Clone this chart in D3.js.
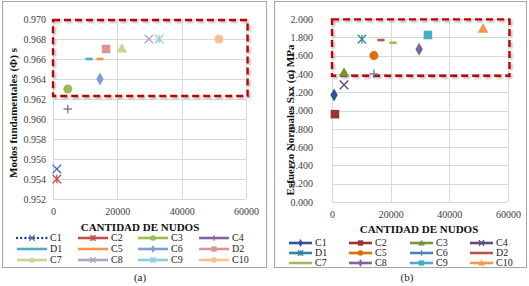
<!DOCTYPE html>
<html><head><meta charset="utf-8">
<script src="https://cdn.jsdelivr.net/npm/d3@7"></script>
<style>
html,body{margin:0;padding:0;background:#fff;}
svg{display:block;font-family:"Liberation Serif","Times New Roman",serif;}
</style></head>
<body><svg id="c" width="529" height="286"></svg>
<script>
// ---------- data ----------
const series = ["C1","C2","C3","C4","D1","C5","C6","D2","C7","C8","C9","C10"];
const xTicks = [0, 20000, 40000, 60000];
// panel (a)
const nudosA = [1200, 1200, 4600, 4600, 11200, 14600, 14600, 16500, 21400, 29800, 33000, 51600];
const modosA = [0.955, 0.954, 0.963, 0.961, 0.966, 0.966, 0.964, 0.967, 0.967, 0.968, 0.968, 0.968];
const yTicksA = [0.952,0.954,0.956,0.958,0.960,0.962,0.964,0.966,0.968,0.970];
const markersA = ["x","star","circle","plus","dash","dash","diamond","square","triangle","x","star","circle"];
const colorsA = ["#4472c4","#c0504d","#9bbb59","#8064a2","#4bacc6","#f79646","#7f9fd4","#d99694","#c3d69b","#b3a2c7","#93cddd","#fac090"];
const boxA = {x0: 0, x1: 60500, y0: 0.9623, y1: 0.9699};
// panel (b)
const nudosB = [700, 1000, 4100, 4100, 10200, 14300, 14300, 16700, 20800, 29700, 32700, 51500];
const esfB = [1.17, 0.96, 1.41, 1.28, 1.78, 1.60, 1.40, 1.77, 1.74, 1.67, 1.825, 1.89];
const yTicksB = [0,0.2,0.4,0.6,0.8,1.0,1.2,1.4,1.6,1.8,2.0];
const markersB = ["diamond","square","triangle","x","star","circle","plus","dash","dash","diamond","square","triangle"];
const colorsB = ["#2f5597","#953735","#77933c","#604a7b","#31859c","#e46c0a","#4f81bd","#c0504d","#9bbb59","#8064a2","#4bacc6","#f79646"];
const boxB = {x0: 0, x1: 60500, y0: 1.38, y1: 1.995};

const svg = d3.select("#c");
const defs = svg.append("defs");
defs.append("filter").attr("id","blur").append("feGaussianBlur").attr("stdDeviation",1.2);

function marker(g, type, x, y, color, s){
  s = s || 1;
  if(type==="circle") g.append("circle").attr("cx",x).attr("cy",y).attr("r",4.5*s).attr("fill",color);
  else if(type==="square") g.append("rect").attr("x",x-4.3*s).attr("y",y-4.3*s).attr("width",8.6*s).attr("height",8.6*s).attr("fill",color);
  else if(type==="diamond") g.append("path").attr("d",d3.symbol(d3.symbolDiamond, 48*s*s)()).attr("transform",`translate(${x},${y})`).attr("fill",color);
  else if(type==="triangle") g.append("path").attr("d",d3.symbol(d3.symbolTriangle, 50*s*s)()).attr("transform",`translate(${x},${y+0.5})`).attr("fill",color);
  else if(type==="dash") g.append("rect").attr("x",x-3.6*s).attr("y",y-1.3).attr("width",7.2*s).attr("height",2.6).attr("fill",color);
  else {
    const h = 4.3*s, lines=[];
    if(type==="x"||type==="star"){lines.push([x-h,y-h,x+h,y+h]);lines.push([x-h,y+h,x+h,y-h]);}
    if(type==="plus"){lines.push([x-h,y,x+h,y]);lines.push([x,y-h,x,y+h]);}
    if(type==="star"){lines.push([x,y-h,x,y+h]);}
    lines.forEach(l=>g.append("line").attr("x1",l[0]).attr("y1",l[1]).attr("x2",l[2]).attr("y2",l[3]).attr("stroke",color).attr("stroke-width",1.3));
  }
}

function panel(cfg){
  const g = svg.append("g");
  g.append("rect").attr("x",cfg.bx).attr("y",1.5).attr("width",cfg.bw).attr("height",266).attr("fill","#fff").attr("stroke","#a6a6a6").attr("stroke-width",1);
  const x = d3.scaleLinear().domain([0,60000]).range(cfg.xr);
  const y = d3.scaleLinear().domain(cfg.yd).range(cfg.yr);
  // grid
  const grid = g.append("g");
  cfg.yTicks.forEach(t=>grid.append("line").attr("x1",cfg.xr[0]).attr("x2",cfg.xr[1]).attr("y1",Math.round(y(t))+0.5).attr("y2",Math.round(y(t))+0.5).attr("stroke","#d9d9d9"));
  xTicks.forEach(t=>grid.append("line").attr("y1",cfg.yr[0]).attr("y2",cfg.yr[1]).attr("x1",Math.round(x(t))+0.5).attr("x2",Math.round(x(t))+0.5).attr("stroke","#d9d9d9"));
  // axes
  const ya = g.append("g").attr("transform",`translate(${cfg.xr[0]},0)`).call(d3.axisLeft(y).tickValues(cfg.yTicks).tickFormat(d3.format(".3f")).tickSize(0).tickPadding(cfg.ypad));
  const xa = g.append("g").attr("transform",`translate(0,${cfg.yr[0]})`).call(d3.axisBottom(x).tickValues(xTicks).tickFormat(d3.format("d")).tickSize(0).tickPadding(cfg.xpad));
  [ya,xa].forEach(a=>{a.select(".domain").remove();a.selectAll("text").attr("font-size",cfg.tickFs).attr("fill","#404040").attr("font-family","Liberation Serif, serif");});
  // titles
  g.append("text").attr("x",cfg.xtx).attr("y",cfg.xty).attr("text-anchor","middle").attr("font-weight","bold").attr("font-size",11).attr("fill","#111").text("CANTIDAD DE NUDOS");
  g.append("text").attr("transform",`translate(${cfg.ytx},${cfg.yty}) rotate(-90)`).attr("text-anchor","middle").attr("font-weight","bold").attr("font-size",11).attr("fill","#111").text(cfg.ytitle);
  // dashed box with shadow
  const bx = x(cfg.box.x0), bx1 = x(cfg.box.x1), by = y(cfg.box.y1), by1 = y(cfg.box.y0);
  g.append("rect").attr("x",bx+1.5).attr("y",by+1.5).attr("width",bx1-bx).attr("height",by1-by).attr("fill","none").attr("stroke","#b0b0b0").attr("stroke-width",2.5).attr("stroke-dasharray","7,4").attr("filter","url(#blur)");
  g.append("rect").attr("x",bx).attr("y",by).attr("width",bx1-bx).attr("height",by1-by).attr("fill","none").attr("stroke","#c00000").attr("stroke-width",2.3).attr("stroke-dasharray","7,4");
  // points
  const pg = g.append("g");
  cfg.xs.forEach((v,i)=>marker(pg, cfg.markers[i], x(v), y(cfg.ys[i]), cfg.colors[i]));
  // legend
  const lg = g.append("g");
  series.forEach((s,i)=>{
    const col = i%4, row = Math.floor(i/4);
    const lx = cfg.legX[col], ly = cfg.legY[row];
    const c = cfg.colors[i];
    const line = lg.append("line").attr("x1",lx).attr("x2",lx+cfg.legLen).attr("y1",ly).attr("y2",ly).attr("stroke",cfg.legLine && cfg.legLine[i] ? cfg.legLine[i] : c).attr("stroke-width",2.6);
    if(cfg.dotted && cfg.dotted[i]) line.attr("stroke-dasharray","0,4.2").attr("stroke-linecap","round").attr("stroke-width",2.4);
    if(cfg.markers[i]!=="dash") marker(lg, cfg.markers[i], lx+cfg.legLen/2, ly, c, 0.62);
    lg.append("text").attr("x",lx+cfg.legLen+3).attr("y",ly+3.3).attr("font-size",10).attr("fill","#222").text(s);
  });
  g.append("text").attr("x",cfg.capx).attr("y",281).attr("text-anchor","middle").attr("font-size",11).attr("fill","#222").text(cfg.cap);
}

panel({bx:2.5,bw:264,xr:[53,246],yr:[199,19],yd:[0.952,0.970],yTicks:yTicksA,ypad:7,xpad:9,tickFs:10,
  xtx:140,xty:231,ytx:17,yty:113,ytitle:"Modos fundamentales (\u03A6) s",
  box:boxA,xs:nudosA,ys:modosA,markers:markersA,colors:colorsA,
  legX:[17,78,138,199],legY:[238,249,260],legLen:30,dotted:[true],legLine:["#1f3c88"],cap:"(a)",capx:140});
panel({bx:274.5,bw:252,xr:[332,508],yr:[202,19],yd:[0,2],yTicks:yTicksB,ypad:19,xpad:9,tickFs:10,
  xtx:419,xty:233,ytx:294,yty:120,ytitle:"Esfuerzo Normales Sxx (\u03C3) MPa",
  box:boxB,xs:nudosB,ys:esfB,markers:markersB,colors:colorsB,
  legX:[289,349,410,470],legY:[243,253,263],legLen:23,cap:"(b)",capx:407});
</script></body></html>
